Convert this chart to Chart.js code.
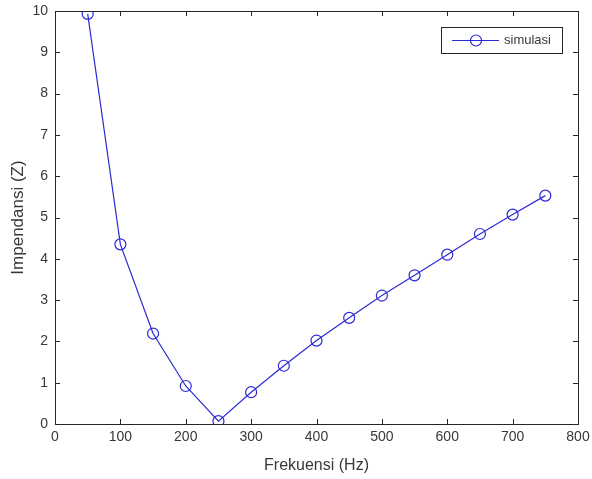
<!DOCTYPE html>
<html>
<head>
<meta charset="utf-8">
<script src="https://cdn.jsdelivr.net/npm/chart.js@4/dist/chart.umd.min.js"></script>
<style>
  html, body { margin: 0; padding: 0; background: #fff; }
  #wrap { width: 592px; height: 479px; }
</style>
</head>
<body>
<div id="wrap"><canvas id="impChart"></canvas></div>
<script>
// Data
const frekuensi = [50, 100, 150, 200, 250, 300, 350, 400, 450, 500, 550, 600, 650, 700, 750];
const impendansi = [9.93, 4.35, 2.19, 0.92, 0.07, 0.77, 1.41, 2.02, 2.57, 3.11, 3.6, 4.1, 4.6, 5.07, 5.53];
const seriesLabel = 'simulasi';

const lineColor = '#2b2bd4';
const axisColor = '#262626';
const labelColor = '#383838';
const fontFamily = '"Liberation Sans", Arial, sans-serif';

// MATLAB-like box, inside ticks and legend
const matlabBox = {
    id: 'matlabBox',
    afterDraw(chart) {
        const ctx = chart.ctx;
        const a = chart.chartArea;
        const xs = chart.scales.x, ys = chart.scales.y;
        ctx.save();
        ctx.strokeStyle = axisColor;
        ctx.lineWidth = 1;
        ctx.strokeRect(a.left + 0.5, a.top + 0.5, a.right - a.left, a.bottom - a.top);
        const tl = 5;
        ctx.beginPath();
        xs.ticks.forEach(t => {
            const px = Math.round(xs.getPixelForValue(t.value)) + 0.5;
            ctx.moveTo(px, a.bottom); ctx.lineTo(px, a.bottom - tl);
            ctx.moveTo(px, a.top); ctx.lineTo(px, a.top + tl);
        });
        ys.ticks.forEach(t => {
            const py = Math.round(ys.getPixelForValue(t.value)) + 0.5;
            ctx.moveTo(a.left, py); ctx.lineTo(a.left + tl, py);
            ctx.moveTo(a.right, py); ctx.lineTo(a.right - tl, py);
        });
        ctx.stroke();

        // legend
        const lx = 441, ly = 27, lw = 121, lh = 26;
        ctx.fillStyle = '#fff';
        ctx.fillRect(lx, ly, lw, lh);
        ctx.strokeStyle = axisColor;
        ctx.strokeRect(lx + 0.5, ly + 0.5, lw, lh);
        const cy = ly + lh / 2 + 0.5;
        ctx.strokeStyle = lineColor;
        ctx.lineWidth = 1.2;
        ctx.beginPath();
        ctx.moveTo(452, cy); ctx.lineTo(499, cy);
        ctx.stroke();
        ctx.beginPath();
        ctx.arc(476, cy, 5.5, 0, Math.PI * 2);
        ctx.stroke();
        ctx.fillStyle = labelColor;
        ctx.font = '13px ' + fontFamily;
        ctx.textBaseline = 'middle';
        ctx.fillText(seriesLabel, 504, cy);
        ctx.restore();
    }
};

const ctx = document.getElementById('impChart').getContext('2d');
const impChart = new Chart(ctx, {
    type: 'line',
    data: {
        datasets: [{
            label: seriesLabel,
            data: frekuensi.map((f, i) => ({ x: f, y: impendansi[i] })),
            borderColor: lineColor,
            borderWidth: 1.2,
            pointStyle: 'circle',
            pointRadius: 5.5,
            pointBorderWidth: 1.2,
            pointBorderColor: lineColor,
            pointBackgroundColor: 'rgba(0,0,0,0)',
            fill: false,
            tension: 0
        }]
    },
    options: {
        responsive: true,
        maintainAspectRatio: false,
        animation: false,
        layout: { padding: { top: 11, right: 14, left: 0, bottom: 0 } },
        plugins: {
            legend: { display: false },
            tooltip: { enabled: false }
        },
        scales: {
            x: {
                type: 'linear',
                min: 0,
                max: 800,
                ticks: {
                    stepSize: 100,
                    color: labelColor,
                    padding: 5,
                    font: { family: fontFamily, size: 14 }
                },
                grid: { drawOnChartArea: false, drawTicks: false },
                border: { color: axisColor },
                title: {
                    display: true,
                    text: 'Frekuensi (Hz)',
                    color: labelColor,
                    padding: { top: 6, bottom: 4 },
                    font: { family: fontFamily, size: 16 }
                },
                afterFit(scale) {
                    scale.height = 55;
                    scale.paddingLeft = 0;
                    scale.paddingRight = 0;
                }
            },
            y: {
                min: 0,
                max: 10,
                ticks: {
                    stepSize: 1,
                    color: labelColor,
                    padding: 7,
                    font: { family: fontFamily, size: 14 }
                },
                grid: { drawOnChartArea: false, drawTicks: false },
                border: { color: axisColor },
                title: {
                    display: true,
                    text: 'Impendansi (Z)',
                    color: labelColor,
                    padding: { top: 8, bottom: 4 },
                    font: { family: fontFamily, size: 17 }
                },
                afterFit(scale) {
                    scale.width = 55;
                    scale.paddingTop = 0;
                    scale.paddingBottom = 0;
                }
            }
        }
    },
    plugins: [matlabBox]
});
</script>
</body>
</html>
